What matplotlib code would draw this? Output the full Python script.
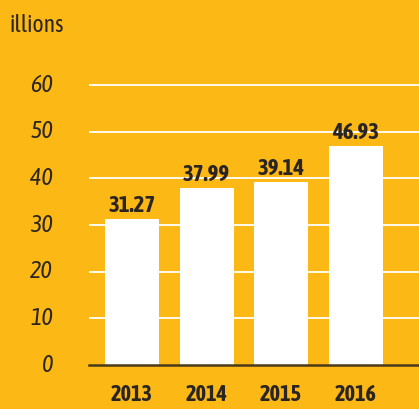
import matplotlib
matplotlib.use("Agg")
import matplotlib.pyplot as plt

years = ["2013", "2014", "2015", "2016"]
values = [31.27, 37.99, 39.14, 46.93]
yticks = [0, 10, 20, 30, 40, 50, 60]

BG = "#FCB814"
TXT = "#2B2522"
FONT = ["Asap Condensed", "DejaVu Sans"]

W, H = 419, 409
fig = plt.figure(figsize=(W / 100, H / 100), dpi=100, facecolor=BG)
x0, x1 = 89, 419
y0, ytop = 365, 60
ax = fig.add_axes([x0 / W, (H - y0) / H, (x1 - x0) / W, (y0 - ytop) / H])
ax.set_facecolor(BG)
px_per_unit = (365 - 85) / 60
ax.set_ylim(0, (y0 - ytop) / px_per_unit)
ax.set_xlim(-0.577, 3.846)

for t in yticks[1:]:
    ax.axhline(t, color="white", lw=1.3, zorder=1)

xs = list(range(len(years)))
ax.bar(xs, values, width=0.72, color="white", zorder=2)
ax.axhline(0, color="#4a3a1a", lw=1.8, zorder=3, clip_on=False)

for x, v in zip(xs, values):
    ax.text(x, v + 0.4, f"{v:.2f}", ha="center", va="bottom", fontsize=16.5,
            fontweight="bold", color=TXT, family=FONT)

for s in ax.spines.values():
    s.set_visible(False)
ax.set_xticks([])
ax.set_yticks([])

for t in yticks:
    y = y0 - t * px_per_unit
    fig.text(53 / W, (H - y) / H, str(t), ha="right", va="center", fontsize=17.5,
             style="italic", color=TXT, family=FONT)

for x, lab in zip(xs, years):
    xp = 132 + x * 74.5
    fig.text(xp / W, (H - 395) / H, lab, ha="center", va="center", fontsize=16,
             fontweight="bold", color=TXT, family=FONT)

fig.text(9 / W, (H - 26) / H, "illions", ha="left", va="center", fontsize=17,
         color=TXT, family=FONT)

fig.savefig("out.png", dpi=100, facecolor=BG)
